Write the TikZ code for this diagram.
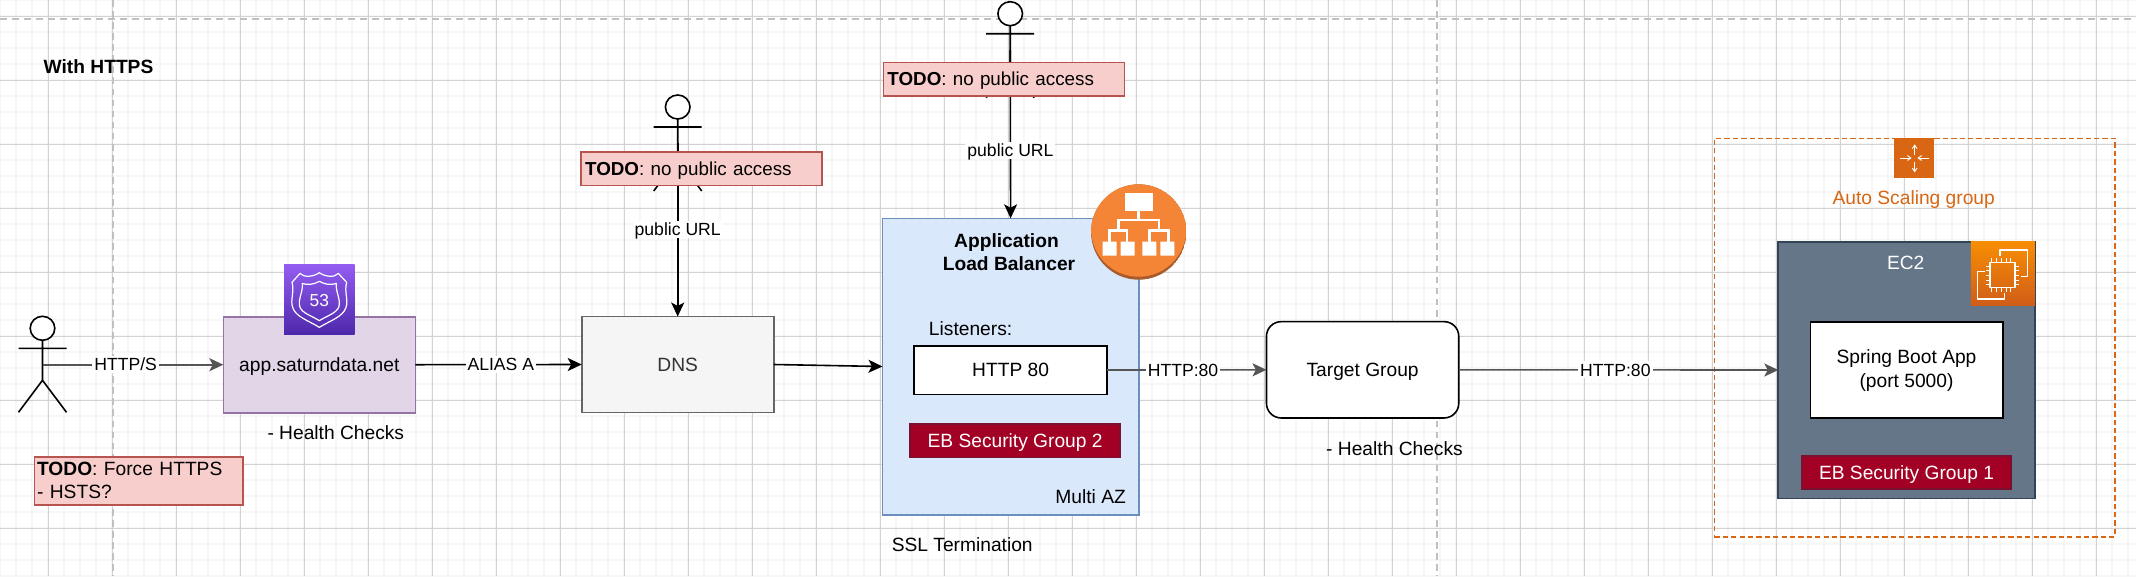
\documentclass[tikz,border=0pt]{standalone}
\usepackage{fontspec}
\setmainfont{Liberation Sans}
\usetikzlibrary{arrows.meta}
\definecolor{gridmajor}{HTML}{D2D2D2}
\definecolor{gridminor}{HTML}{F7F7F7}
\definecolor{pagebreak}{HTML}{C0C0C0}
\definecolor{awsorange}{HTML}{D86613}
\definecolor{todofill}{HTML}{F8CECC}
\definecolor{todoline}{HTML}{B85450}
\definecolor{sgfill}{HTML}{A20025}
\definecolor{sgline}{HTML}{7A1030}
\definecolor{edgegray}{HTML}{555555}
\definecolor{r53fill}{HTML}{E1D5E7}
\definecolor{r53line}{HTML}{9673A6}
\definecolor{dnsfill}{HTML}{F5F5F5}
\definecolor{dnsline}{HTML}{666666}
\definecolor{dnstext}{HTML}{333333}
\definecolor{albfill}{HTML}{DAE8FC}
\definecolor{albline}{HTML}{6C8EBF}
\definecolor{ec2fill}{HTML}{647687}
\definecolor{ec2line}{HTML}{314354}
\definecolor{albicon}{HTML}{F58536}
\definecolor{albshade}{HTML}{A85C2B}
\definecolor{r53top}{HTML}{945DF2}
\definecolor{r53bot}{HTML}{4D27AA}
\definecolor{ec2top}{HTML}{F78E04}
\definecolor{ec2bot}{HTML}{D05C17}
\def\px{0.75pt}
\tikzset{
  oneline/.style={text height=11pt,text depth=1pt},
  txt/.style={inner sep=0pt,outer sep=0pt,font=\fontsize{14.4}{17.25}\selectfont,oneline,align=center},
  edgelabel/.style={inner xsep=1.5pt,inner ysep=1pt,outer sep=0pt,fill=white,font=\fontsize{13.2}{15.8}\selectfont,text height=10pt,text depth=0.8pt},
  boxbase/.style={draw,line width=1.2pt,outer sep=0pt,inner sep=0pt,font=\fontsize{14.4}{17.25}\selectfont,align=center},
  sized/.style n args={2}{minimum width=#1*\px,minimum height=#2*\px},
  todo/.style={boxbase,fill=todofill,draw=todoline},
  secgroup/.style={boxbase,fill=sgfill,draw=sgline,text=white,oneline},
  whitebox/.style={boxbase,fill=white,draw=black},
  grayedge/.style={draw=edgegray,line width=1.2pt,-{Stealth[length=10.5pt,width=9.8pt,inset=2.6pt]}},
  blackedge/.style={draw=black,line width=1.2pt,-{Stealth[length=10.5pt,width=9.8pt,inset=2.6pt]}},
  actorline/.style={draw=black,line width=1.2pt},
  iconline/.style={draw=white,line width=0.9pt,line join=round},
  asgarrow/.style={draw=white,line width=0.7pt,-{Straight Barb[length=2.6pt,width=3.6pt]}},
  treeline/.style={draw=white,line width=1.9pt},
}
\begin{document}
\begin{tikzpicture}[x=0.75pt,y=-0.75pt]
\useasboundingbox (0,0) rectangle (2136,576);
\fill[white] (0,0) rectangle (2136,576);
% grid
\foreach \k in {-3,...,130}{\draw[gridminor,line width=1.3pt] ({48.3+16*\k},0) -- ({48.3+16*\k},576);}
\foreach \k in {-1,...,35}{\draw[gridminor,line width=1.3pt] (0,{16.3+16*\k}) -- (2136,{16.3+16*\k});}
\foreach \k in {-1,...,33}{\draw[gridmajor,line width=0.8pt] ({48.3+64*\k},0) -- ({48.3+64*\k},576);}
\foreach \k in {0,...,8}{\draw[gridmajor,line width=0.8pt] (0,{16.3+64*\k}) -- (2136,{16.3+64*\k});}
\draw[pagebreak,line width=1.4pt,dash pattern=on 5.4pt off 3.6pt] (0,19) -- (2136,19);
\draw[pagebreak,line width=1.4pt,dash pattern=on 5pt off 3.3pt] (113,0) -- (113,576);
\draw[pagebreak,line width=1.4pt,dash pattern=on 5pt off 3.3pt] (1437,0) -- (1437,576);

\node[txt,font=\fontsize{14.4}{17.25}\selectfont\bfseries] (title) at (98.5,67) {With HTTPS};

% main boxes
\node[boxbase,fill=r53fill,draw=r53line,sized={192}{96},oneline] (r53) at (319.3,364.7) {app.saturndata.net};
\node[boxbase,fill=dnsfill,draw=dnsline,text=dnstext,sized={192}{96},oneline] (dns) at (677.7,364.5) {DNS};
\node[boxbase,fill=albfill,draw=albline,sized={256.4}{296.4}] (alb) at (1010.6,366.5) {};
\node[whitebox,rounded corners=11pt,sized={192.3}{96.3},oneline] (tg) at (1362.6,369.8) {Target Group};
\node[boxbase,fill=ec2fill,draw=ec2line,sized={256.7}{256.6}] (ec2) at (1906.6,370) {};
\node[boxbase,draw=awsorange,dash pattern=on 4pt off 2.3pt,sized={400.7}{398.4}] (asg) at (1914.65,337.5) {};

% actors and connectors
\coordinate (actorA) at (42.5,364.7);
\coordinate (actorB) at (677.7,143);
\coordinate (actorC) at (1010.2,50);
\foreach \cx/\top in {42.5/316.3,677.7/95,1010.2/1.7}{
  \draw[actorline,fill=white] (\cx,\top+12) ellipse [x radius=12.3,y radius=12];
  \draw[actorline] (\cx,\top+24) -- (\cx,\top+64) (\cx-24,\top+32) -- (\cx+24,\top+32)
     (\cx-24,\top+96) -- (\cx,\top+64) -- (\cx+24,\top+96);
}
\draw[grayedge] (actorA) -- node[edgelabel,pos=.46,text=black] (lbla) {HTTP/S} (r53.west);
\draw[blackedge] (r53.east) -- node[edgelabel,pos=.514] (lblb) {ALIAS A} (dns.west);
\draw[blackedge] (actorB) -- node[edgelabel,pos=.5] (lblc) {public URL} (dns.north);
\draw[blackedge] (actorC) -- node[edgelabel,pos=.595] (lbld) {public URL} (alb.north);
\draw[blackedge] (dns.east) -- (alb.west);

% TODO boxes
\node[todo,sized={241}{33.4},text width=233*\px,align=left,oneline,font=\fontsize{14.1}{17}\selectfont] (todoB) at (701.6,168.7) {\textbf{TODO}: no public access};
\node[todo,sized={241.2}{33.4},text width=233*\px,align=left,oneline,font=\fontsize{14.1}{17}\selectfont] (todoC) at (1003.9,79) {\textbf{TODO}: no public access};
\node[todo,sized={208.6}{48},text width=203*\px,align=left] (todoA) at (138.6,480.7) {\textbf{TODO}: Force HTTPS\\- HSTS?};
\node[txt] (hc1) at (335.8,433.3) {- Health Checks};

% ALB contents
\node[inner sep=0pt,outer sep=0pt,align=center,font=\fontsize{14.4}{17.25}\selectfont\bfseries] (albt) at (1009,252) {Application\kern3.75pt\\Load Balancer};
\begin{scope}
  \clip (1138.7,232) circle [radius=47.7];
  \fill[albshade] (1138.7,232) circle [radius=47.7];
  \fill[albicon] (1138.7,229) circle [radius=47.7];
\end{scope}
\begin{scope}[shift={(1080,170)},x=0.25pt,y=-0.25pt]
  \fill[white] (134,70) rectangle (218,122);
  \draw[treeline] (176,122) -- (176,150) (115,182) -- (115,150) -- (237,150) -- (237,182)
     (89,215) -- (89,182) -- (141,182) -- (141,215)
     (209,215) -- (209,182) -- (265,182) -- (265,215);
  \fill[white] (68,215) rectangle (110,257) (122,215) rectangle (164,257)
     (187,215) rectangle (229,257) (241,215) rectangle (283,257);
\end{scope}
\node[txt] (lst) at (970.6,329.3) {Listeners:};
\node[whitebox,sized={192.7}{48.6},oneline] (http) at (1010.6,370) {HTTP 80};
\node[secgroup,sized={209.8}{33.6}] (sg2) at (1015.1,440.5) {EB Security Group 2};
\node[txt] (maz) at (1090.6,497.3) {Multi AZ};
\node[txt] (ssl) at (962.2,545.3) {SSL Termination};
\draw[grayedge] (http.east) -- node[edgelabel,pos=.477,text=black] (lble) {HTTP:80} (tg.west);
\draw[grayedge] (tg.east) -- node[edgelabel,pos=.49,text=black] (lblf) {HTTP:80} (ec2.west);
\node[txt] (hc2) at (1394.5,449.3) {- Health Checks};

% Route 53 icon
\node[inner sep=0pt,outer sep=0pt,minimum width=70.4*\px,minimum height=70.4*\px,top color=r53top,bottom color=r53bot,draw=none] (r53icon) at (319.3,299.7) {};
\begin{scope}[shift={(270,250)},x=0.25pt,y=-0.25pt]
  \draw[iconline] (90,70) .. controls (100,82) and (128,82) .. (148,68) .. controls (168,82) and (196,82) .. (205,70)
     -- (230,97) .. controls (222,125) and (236,150) .. (228,172) .. controls (220,200) and (180,212) .. (148,232)
     .. controls (116,212) and (76,200) .. (68,172) .. controls (60,150) and (74,125) .. (66,97) -- cycle;
  \draw[iconline] (97,100) .. controls (112,106) and (130,104) .. (148,94) .. controls (166,104) and (184,106) .. (199,100)
     .. controls (196,125) and (214,150) .. (206,172) .. controls (198,190) and (170,198) .. (148,212)
     .. controls (126,198) and (98,190) .. (90,172) .. controls (82,150) and (100,125) .. (97,100) -- cycle;
\end{scope}
\node[inner sep=0pt,outer sep=0pt,text=white,font=\fontsize{13}{15}\selectfont] (r53n) at (319.3,300.5) {53};

% EC2 contents
\node[txt,text=white] (ec2t) at (1905.7,263.3) {EC2};
\node[inner sep=0pt,outer sep=0pt,minimum width=64*\px,minimum height=64*\px,top color=ec2top,bottom color=ec2bot] (ec2icon) at (2002.9,273.7) {};
\begin{scope}[shift={(1950,230)},x=0.25pt,y=-0.25pt]
  \draw[iconline] (150,78) -- (150,60) -- (232,60) -- (232,140) -- (212,140);
  \draw[iconline] (105,125) -- (83,125) -- (83,207) -- (163,207) -- (163,188);
  \draw[iconline] (120,98) rectangle (195,172);
  \foreach \p in {130,145,160,175,187}{\draw[iconline,line width=0.7pt] (\p-5,98) -- (\p-5,84) (\p-5,172) -- (\p-5,186);}
  \foreach \p in {108,122,136,150,164}{\draw[iconline,line width=0.7pt] (120,\p) -- (107,\p) (195,\p) -- (208,\p);}
\end{scope}
\node[whitebox,sized={192.4}{96.3},font=\fontsize{14.4}{18}\selectfont] (app) at (1906.5,370.1) {Spring Boot App\\(port 5000)};
\node[secgroup,sized={209}{33}] (sg1) at (1906.5,472.5) {EB Security Group 1};

% ASG icon
\node[inner sep=0pt,outer sep=0pt,fill=awsorange,minimum width=40*\px,minimum height=40*\px] (asgicon) at (1914.3,158.2) {};
\begin{scope}[shift={(1680,120)},x=0.25pt,y=-0.25pt]
  \draw[asgarrow] (704,105) -- (704,73);
  \draw[asgarrow] (704,125) -- (704,157);
  \draw[asgarrow] (660,114) -- (695,114);
  \draw[asgarrow] (746,114) -- (712,114);
\end{scope}
\node[txt,text=awsorange] (asgt) at (1913.7,198) {Auto Scaling group};
\end{tikzpicture}
\end{document}
